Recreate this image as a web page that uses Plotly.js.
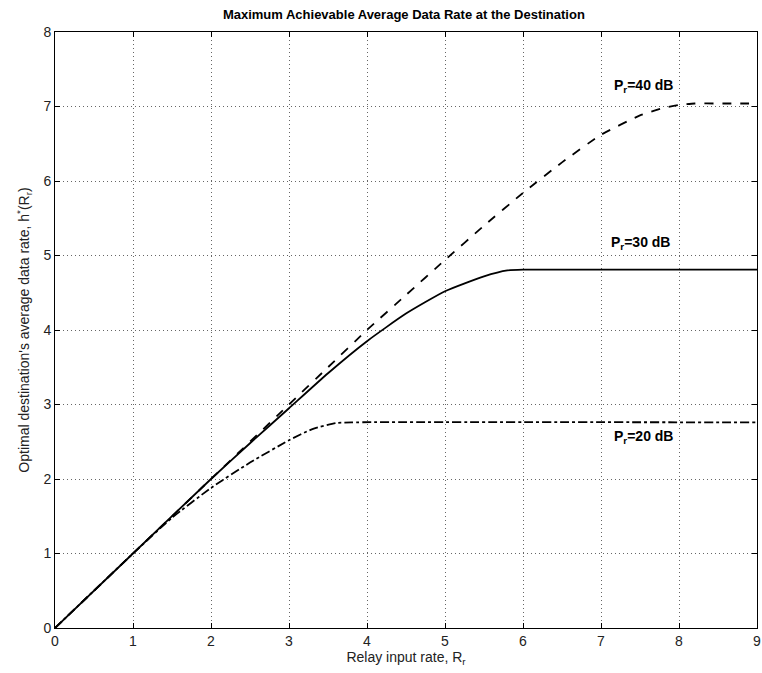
<!DOCTYPE html>
<html><head><meta charset="utf-8">
<script src="https://cdn.plot.ly/plotly-3.0.1.min.js"></script>
<style>html,body{margin:0;padding:0;background:#fff}</style>
</head><body><div id="chart" style="width:762px;height:673px"></div>
<script>
const x40 = [0,1,2,3,3.5,4,4.5,5,5.5,6,6.5,7,7.5,7.8,8,8.2,8.5,9];
const y40 = [0,1,2,3,3.5,4.0,4.47,4.94,5.4,5.84,6.25,6.62,6.88,6.98,7.02,7.04,7.04,7.04];
const x30 = [0,1,2,2.5,3,3.5,4,4.5,5,5.5,5.8,6,9];
const y30 = [0,1,2,2.48,2.95,3.42,3.85,4.22,4.52,4.72,4.80,4.81,4.81];
const x20 = [0,1,1.5,2,2.5,3,3.3,3.6,3.8,9];
const y20 = [0,1,1.48,1.88,2.22,2.52,2.67,2.75,2.76,2.76];
const labels = ['P<sub>r</sub>=40 dB','P<sub>r</sub>=30 dB','P<sub>r</sub>=20 dB'];
const labelX = [7.55,7.5,7.55];
const labelY = [7.27,5.17,2.56];
const tickVals = [0,1,2,3,4,5,6,7,8,9];

const lineCommon = {color:'#000', width:1.8, shape:'spline', smoothing:0.5};
const traces = [
  {x:x40, y:y40, mode:'lines', line:Object.assign({}, lineCommon, {dash:'dash'}), showlegend:false},
  {x:x30, y:y30, mode:'lines', line:Object.assign({}, lineCommon, {dash:'solid'}), showlegend:false},
  {x:x20, y:y20, mode:'lines', line:Object.assign({}, lineCommon, {dash:'dashdot'}), showlegend:false}
];
const ann = labels.map((t,i)=>({x:labelX[i], y:labelY[i], xref:'x', yref:'y', text:t, showarrow:false,
  font:{family:'Liberation Sans, Arial', size:14, color:'#000', weight:'bold'}}));
const axisCommon = {showline:true, linecolor:'#000', linewidth:1, mirror:'ticks', ticks:'inside', ticklen:5,
  tickcolor:'#000', showgrid:true, gridcolor:'#666', griddash:'1px,3px', gridwidth:1, zeroline:false,
  ticklabeloverflow:'allow',
  tickfont:{family:'Liberation Sans Narrow, Liberation Sans, Arial', size:14, color:'#222'}};
const layout = {
  width:762, height:673,
  margin:{l:55, r:5, t:32, b:45},
  paper_bgcolor:'#fff', plot_bgcolor:'#fff',
  title:{text:'<b>Maximum Achievable Average Data Rate at the Destination</b>', x:0.53, xanchor:'center', y:0.985, yanchor:'top',
    font:{family:'Liberation Sans Narrow, Liberation Sans, Arial', size:13, color:'#000'}},
  xaxis:Object.assign({}, axisCommon, {range:[0,9], tickvals:tickVals, ticktext:tickVals.map(String),
    title:{text:'Relay input rate, R<sub>r</sub>', standoff:4, font:{family:'Liberation Sans, Arial', size:14, color:'#222'}}}),
  yaxis:Object.assign({}, axisCommon, {range:[0,8], dtick:1,
    title:{text:"Optimal destination's average data rate, h<sup>*</sup>(R<sub>r</sub>)", standoff:10, font:{family:'Liberation Sans, Arial', size:14, color:'#222'}}}),
  annotations:ann
};
Plotly.newPlot('chart', traces, layout, {displayModeBar:false, staticPlot:true});
</script></body></html>
